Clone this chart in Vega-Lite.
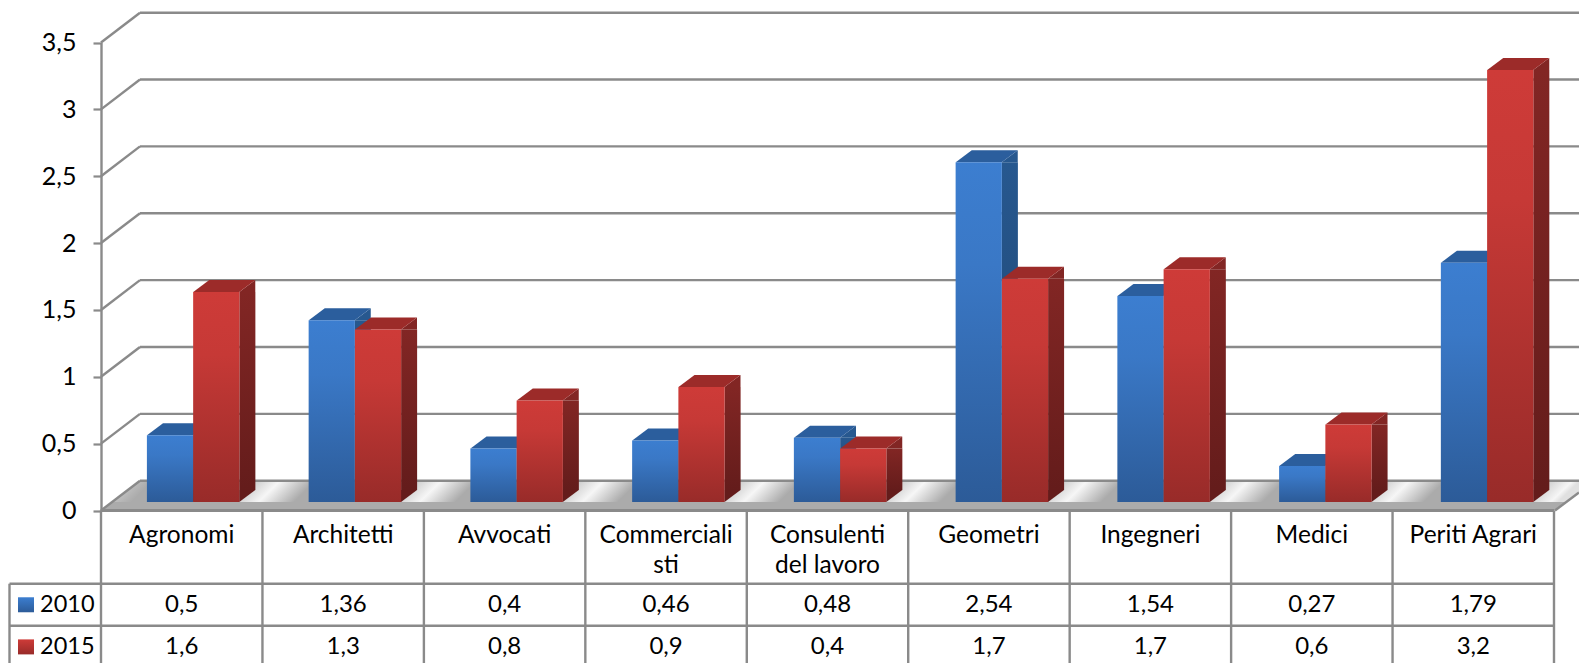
{
"$schema":"https://vega.github.io/schema/vega-lite/v6.json",
"width":1579,"height":663,"padding":0,"autosize":{"type":"none"},"background":"white",
"config":{"view":{"stroke":null},"font":"Lato","locale":{"number":{"decimal":",","thousands":".","grouping":[3],"currency":["","€"]}}},
"data":{"values":[
{"category":"Agronomi","year":2010,"value":0.5},{"category":"Agronomi","year":2015,"value":1.57},
{"category":"Architetti","year":2010,"value":1.36},{"category":"Architetti","year":2015,"value":1.29},
{"category":"Avvocati","year":2010,"value":0.4},{"category":"Avvocati","year":2015,"value":0.76},
{"category":"Commercialisti","year":2010,"value":0.46},{"category":"Commercialisti","year":2015,"value":0.86},
{"category":"Consulenti del lavoro","year":2010,"value":0.48},{"category":"Consulenti del lavoro","year":2015,"value":0.4},
{"category":"Geometri","year":2010,"value":2.54},{"category":"Geometri","year":2015,"value":1.67},
{"category":"Ingegneri","year":2010,"value":1.54},{"category":"Ingegneri","year":2015,"value":1.74},
{"category":"Medici","year":2010,"value":0.27},{"category":"Medici","year":2015,"value":0.58},
{"category":"Periti Agrari","year":2010,"value":1.79},{"category":"Periti Agrari","year":2015,"value":3.23}
]},
"resolve":{"scale":{"x":"independent"},"axis":{"x":"independent"}},
"layer":[
{"layer":[
{"data":{"values":[{"tick":0}]},
 "mark":{"type":"point","shape":"M0,0 L39,-29.5 L1478,-29.5 L1478,-18 L1454,0 Z","size":4,"filled":true,"opacity":1,"strokeWidth":0,
  "fill":{"gradient":"linear","x1":0,"y1":0,"x2":1,"y2":0.0203,"stops":[
   {"offset":0,"color":"#e4e4e4"},{"offset":0.035,"color":"#ababab"},
   {"offset":0.09,"color":"#ababab"},{"offset":0.121,"color":"#f6f6f6"},{"offset":0.145,"color":"#ababab"},
   {"offset":0.199,"color":"#ababab"},{"offset":0.23,"color":"#f6f6f6"},{"offset":0.254,"color":"#ababab"},
   {"offset":0.309,"color":"#ababab"},{"offset":0.34,"color":"#f6f6f6"},{"offset":0.364,"color":"#ababab"},
   {"offset":0.418,"color":"#ababab"},{"offset":0.449,"color":"#f6f6f6"},{"offset":0.473,"color":"#ababab"},
   {"offset":0.527,"color":"#ababab"},{"offset":0.558,"color":"#f6f6f6"},{"offset":0.582,"color":"#ababab"},
   {"offset":0.636,"color":"#ababab"},{"offset":0.667,"color":"#f6f6f6"},{"offset":0.691,"color":"#ababab"},
   {"offset":0.745,"color":"#ababab"},{"offset":0.776,"color":"#f6f6f6"},{"offset":0.8,"color":"#ababab"},
   {"offset":0.854,"color":"#ababab"},{"offset":0.885,"color":"#f6f6f6"},{"offset":0.909,"color":"#ababab"},
   {"offset":0.964,"color":"#ababab"},{"offset":0.995,"color":"#f6f6f6"},{"offset":1,"color":"#e0e0e0"}]}},
 "encoding":{
  "x":{"datum":"Agronomi","bandPosition":0,"type":"nominal","sort":null,
   "scale":{"type":"band","domain":["Agronomi","Architetti","Avvocati","Commercialisti","Consulenti del lavoro","Geometri","Ingegneri","Medici","Periti Agrari"],"range":[101,1554],"paddingInner":0,"paddingOuter":0},
   "axis":{"title":null,"orient":"bottom","offset":-152.5,"ticks":false,"domain":false,"grid":false,"labelAngle":0,"labelAlign":"center","labelBaseline":"top","labelPadding":13,"labelFontSize":24.5,"labelFont":"Lato","labelColor":"#000000","labelLimit":300,"labelOverlap":false,"labelLineHeight":30,
    "labelExpr":"datum.label=='Commercialisti'?['Commerciali','sti']:datum.label=='Consulenti del lavoro'?['Consulenti','del lavoro']:datum.label"}},
  "y":{"field":"tick","type":"quantitative",
   "scale":{"type":"linear","domain":[0,3.5],"range":[510.5,42.5],"nice":false,"zero":false},
   "axis":{"title":null,"orient":"left","offset":-101,"values":[0,0.5,1,1.5,2,2.5,3,3.5],"format":".1~f","grid":false,"domainColor":"#8a8a8a","domainWidth":2.4,"tickColor":"#8a8a8a","tickWidth":2.2,"tickSize":8,"labelPadding":17,"labelFontSize":25,"labelFont":"Lato","labelColor":"#000000"}}}},
{"data":{"values":[{"tick":0}]},
 "mark":{"type":"point","shape":"M0,0 L11,-8.5 L1465,-8.5 L1454,0 Z","size":4,"filled":true,"opacity":1,"strokeWidth":0,"fill":"#ababab"},
 "encoding":{"x":{"datum":"Agronomi","bandPosition":0,"type":"nominal"},"y":{"field":"tick","type":"quantitative"}}},
{"data":{"values":[{"tick":0},{"tick":0.5},{"tick":1},{"tick":1.5},{"tick":2},{"tick":2.5},{"tick":3},{"tick":3.5}]},
 "mark":{"type":"point","shape":"M0,0 L39,-29.8","size":4,"filled":false,"opacity":1,"strokeWidth":2.4,"stroke":"#8a8a8a"},
 "encoding":{"x":{"datum":"Agronomi","bandPosition":0,"type":"nominal"},"y":{"field":"tick","type":"quantitative"}}},
{"data":{"values":[{"tick":0},{"tick":0.5},{"tick":1},{"tick":1.5},{"tick":2},{"tick":2.5},{"tick":3},{"tick":3.5}]},
 "mark":{"type":"point","shape":"M39,-29.8 L1478,-29.8","size":4,"filled":false,"opacity":1,"strokeWidth":2.4,"stroke":"#8a8a8a"},
 "encoding":{"x":{"datum":"Agronomi","bandPosition":0,"type":"nominal"},"y":{"field":"tick","type":"quantitative"}}},
{"data":{"values":[{"tick":0}]},
 "mark":{"type":"point","shape":"M1454,0 L1478,-18","size":4,"filled":false,"opacity":1,"strokeWidth":2.4,"stroke":"#8a8a8a"},
 "encoding":{"x":{"datum":"Agronomi","bandPosition":0,"type":"nominal"},"y":{"field":"tick","type":"quantitative"}}},
{"data":{"values":[{"tick":-0.5475},{"tick":-0.8616}]},
 "mark":{"type":"point","shape":"M-91.5,0 L1453,0","size":4,"filled":false,"opacity":1,"strokeWidth":2.4,"stroke":"#8a8a8a"},
 "encoding":{"x":{"datum":"Agronomi","bandPosition":0,"type":"nominal"},"y":{"field":"tick","type":"quantitative"}}},
{"data":{"values":[{"tick":0}]},
 "mark":{"type":"point","shape":"M0,0 L1453,0","size":4,"filled":false,"opacity":1,"strokeWidth":3,"stroke":"#8a8a8a"},
 "encoding":{"x":{"datum":"Agronomi","bandPosition":0,"type":"nominal"},"y":{"field":"tick","type":"quantitative"}}},
{"transform":[{"filter":"datum.year==2010"}],
 "mark":{"type":"rule","strokeWidth":2.4,"color":"#8a8a8a"},
 "encoding":{"x":{"field":"category","type":"nominal","bandPosition":0},"y":{"datum":0},"y2":{"datum":-1.2}}},
{"data":{"values":[{"tick":0}]},
 "mark":{"type":"point","shape":"M161.44,0 L161.44,160","size":4,"filled":false,"opacity":1,"strokeWidth":2.4,"stroke":"#8a8a8a"},
 "encoding":{"x":{"datum":"Periti Agrari","bandPosition":0,"type":"nominal"},"y":{"field":"tick","type":"quantitative"}}},
{"data":{"values":[{"tick":-0.5475}]},
 "mark":{"type":"point","shape":"M-91.5,0 L-91.5,90","size":4,"filled":false,"opacity":1,"strokeWidth":2.4,"stroke":"#8a8a8a"},
 "encoding":{"x":{"datum":"Agronomi","bandPosition":0,"type":"nominal"},"y":{"field":"tick","type":"quantitative"}}},
{"transform":[{"filter":"datum.year==2010"}],
 "mark":{"type":"text","fontSize":24,"font":"Lato","color":"#000000","baseline":"middle"},
 "encoding":{"x":{"field":"category","type":"nominal"},"y":{"datum":-0.705},"text":{"field":"value","type":"quantitative","format":".2~f"}}},
{"transform":[{"filter":"datum.year==2015"}],
 "mark":{"type":"text","fontSize":24,"font":"Lato","color":"#000000","baseline":"middle"},
 "encoding":{"x":{"field":"category","type":"nominal"},"y":{"datum":-1.02},"text":{"field":"value","type":"quantitative","format":".1~f"}}},
{"transform":[{"filter":"datum.year==2010 && datum.category=='Agronomi'"}],
 "mark":{"type":"text","fontSize":23.5,"font":"Lato","color":"#000000","baseline":"middle","align":"left","dx":-61},
 "encoding":{"x":{"datum":"Agronomi","bandPosition":0,"type":"nominal"},"y":{"datum":-0.705},"text":{"field":"year","type":"nominal"}}},
{"transform":[{"filter":"datum.year==2015 && datum.category=='Agronomi'"}],
 "mark":{"type":"text","fontSize":23.5,"font":"Lato","color":"#000000","baseline":"middle","align":"left","dx":-61},
 "encoding":{"x":{"datum":"Agronomi","bandPosition":0,"type":"nominal"},"y":{"datum":-1.02},"text":{"field":"year","type":"nominal"}}},
{"transform":[{"filter":"datum.year==2010 && datum.category=='Agronomi'"}],
 "mark":{"type":"point","shape":"M-83,-7.5 L-67,-7.5 L-67,7.5 L-83,7.5 Z","size":4,"filled":true,"opacity":1,"strokeWidth":0,"fill":{"gradient":"linear","x1":0,"y1":0,"x2":0,"y2":1,"stops":[{"offset":0,"color":"#3c7ed0"},{"offset":1,"color":"#2c5b98"}]}},
 "encoding":{"x":{"datum":"Agronomi","bandPosition":0,"type":"nominal"},"y":{"datum":-0.705}}},
{"transform":[{"filter":"datum.year==2015 && datum.category=='Agronomi'"}],
 "mark":{"type":"point","shape":"M-83,-7.5 L-67,-7.5 L-67,7.5 L-83,7.5 Z","size":4,"filled":true,"opacity":1,"strokeWidth":0,"fill":{"gradient":"linear","x1":0,"y1":0,"x2":0,"y2":1,"stops":[{"offset":0,"color":"#ce3b38"},{"offset":1,"color":"#982b29"}]}},
 "encoding":{"x":{"datum":"Agronomi","bandPosition":0,"type":"nominal"},"y":{"datum":-1.02}}}
]},
{"layer":[
{"transform":[{"filter":"datum.year==2010"}],
 "mark":{"type":"bar","width":16,"xOffset":19.4,"yOffset":-8.5,"y2Offset":-20.5,"fill":{"gradient":"linear","x1":0,"y1":0,"x2":0,"y2":1,"stops":[{"offset":0,"color":"#27588f"},{"offset":1,"color":"#1e4470"}]}},
 "encoding":{"x":{"field":"category","type":"nominal","sort":null,"axis":null,"scale":{"type":"band","domain":["Agronomi","Architetti","Avvocati","Commercialisti","Consulenti del lavoro","Geometri","Ingegneri","Medici","Periti Agrari"],"range":[100.9,1556.6],"paddingInner":0,"paddingOuter":0}},"y":{"field":"value","type":"quantitative"},"y2":{"datum":0}}},
{"transform":[{"filter":"datum.year==2010"}],
 "mark":{"type":"point","shape":"M23,-8.5 L39,-8.5 L39,-20.5 Z","size":4,"filled":true,"opacity":1,"strokeWidth":0,"fill":"#27588f"},
 "encoding":{"x":{"field":"category","type":"nominal"},"xOffset":{"field":"year","type":"nominal","scale":{"type":"band","domain":[2010,2015],"range":[46,138.5],"paddingInner":0,"paddingOuter":0}},"y":{"field":"value","type":"quantitative"}}},
{"transform":[{"filter":"datum.year==2010"}],
 "mark":{"type":"point","shape":"M23,-8.5 L39,-20.5 L23,-20.5 Z","size":4,"filled":true,"opacity":1,"strokeWidth":0,"fill":"#1e4470"},
 "encoding":{"x":{"field":"category","type":"nominal"},"xOffset":{"field":"year","type":"nominal"},"y":{"datum":0}}},
{"transform":[{"filter":"datum.year==2010"}],
 "mark":{"type":"point","shape":"M-23,-8.5 L-7,-20.5 L39,-20.5 L23,-8.5 Z","size":4,"filled":true,"opacity":1,"strokeWidth":0,"fill":"#2b5e9d"},
 "encoding":{"x":{"field":"category","type":"nominal"},"xOffset":{"field":"year","type":"nominal"},"y":{"field":"value","type":"quantitative"}}},
{"transform":[{"filter":"datum.year==2010"}],
 "mark":{"type":"bar","yOffset":-8.5,"y2Offset":-8.5,"fill":{"gradient":"linear","x1":0,"y1":0,"x2":0,"y2":1,"stops":[{"offset":0,"color":"#3c7ed0"},{"offset":0.3,"color":"#3a78c6"},{"offset":1,"color":"#2c5b98"}]}},
 "encoding":{"x":{"field":"category","type":"nominal"},"xOffset":{"field":"year","type":"nominal"},"y":{"field":"value","type":"quantitative"},"y2":{"datum":0}}},
{"transform":[{"filter":"datum.year==2015"}],
 "mark":{"type":"bar","width":16,"xOffset":65.6,"yOffset":-8.5,"y2Offset":-20.5,"fill":{"gradient":"linear","x1":0,"y1":0,"x2":0,"y2":1,"stops":[{"offset":0,"color":"#822624"},{"offset":1,"color":"#641c1b"}]}},
 "encoding":{"x":{"field":"category","type":"nominal"},"y":{"field":"value","type":"quantitative"},"y2":{"datum":0}}},
{"transform":[{"filter":"datum.year==2015"}],
 "mark":{"type":"point","shape":"M23,-8.5 L39,-8.5 L39,-20.5 Z","size":4,"filled":true,"opacity":1,"strokeWidth":0,"fill":"#822624"},
 "encoding":{"x":{"field":"category","type":"nominal"},"xOffset":{"field":"year","type":"nominal"},"y":{"field":"value","type":"quantitative"}}},
{"transform":[{"filter":"datum.year==2015"}],
 "mark":{"type":"point","shape":"M23,-8.5 L39,-20.5 L23,-20.5 Z","size":4,"filled":true,"opacity":1,"strokeWidth":0,"fill":"#641c1b"},
 "encoding":{"x":{"field":"category","type":"nominal"},"xOffset":{"field":"year","type":"nominal"},"y":{"datum":0}}},
{"transform":[{"filter":"datum.year==2015"}],
 "mark":{"type":"point","shape":"M-23,-8.5 L-7,-20.5 L39,-20.5 L23,-8.5 Z","size":4,"filled":true,"opacity":1,"strokeWidth":0,"fill":"#9c2b29"},
 "encoding":{"x":{"field":"category","type":"nominal"},"xOffset":{"field":"year","type":"nominal"},"y":{"field":"value","type":"quantitative"}}},
{"transform":[{"filter":"datum.year==2015"}],
 "mark":{"type":"bar","yOffset":-8.5,"y2Offset":-8.5,"fill":{"gradient":"linear","x1":0,"y1":0,"x2":0,"y2":1,"stops":[{"offset":0,"color":"#ce3b38"},{"offset":0.3,"color":"#c63936"},{"offset":1,"color":"#982b29"}]}},
 "encoding":{"x":{"field":"category","type":"nominal"},"xOffset":{"field":"year","type":"nominal"},"y":{"field":"value","type":"quantitative"},"y2":{"datum":0}}}
]}
]
}
